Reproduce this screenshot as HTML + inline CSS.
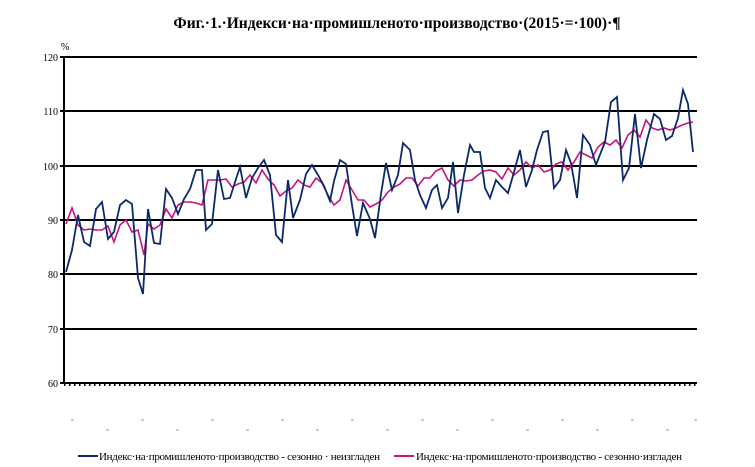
<!DOCTYPE html><html><head><style>body{margin:0;background:#fff}svg{display:block}</style></head><body>
<svg width="755" height="467" xmlns="http://www.w3.org/2000/svg" font-family="Liberation Serif, serif">
<text x="397" y="28" font-size="15.5" font-weight="bold" text-anchor="middle">Фиг.·1.·Индекси·на·промишленото·производство·(2015·=·100)·¶</text>
<text x="61" y="50" font-size="10">%</text>
<g font-size="10" text-anchor="end">
<text x="58" y="61">120</text><text x="58" y="115">110</text><text x="58" y="170">100</text><text x="58" y="224">90</text><text x="58" y="278">80</text><text x="58" y="333">70</text><text x="58" y="387">60</text></g>
<g stroke="#000" stroke-width="2">
<line x1="60" y1="57" x2="697" y2="57"/><line x1="60" y1="111" x2="697" y2="111"/><line x1="60" y1="166" x2="697" y2="166"/><line x1="60" y1="220" x2="697" y2="220"/><line x1="60" y1="274" x2="697" y2="274"/><line x1="60" y1="329" x2="697" y2="329"/><line x1="60" y1="383" x2="697" y2="383"/>
<line x1="64" y1="57" x2="64" y2="384"/></g>
<line x1="64" y1="385" x2="697" y2="385" stroke="#000" stroke-width="2" stroke-dasharray="1.5 3.5"/>
<polyline fill="none" stroke="#c8137e" stroke-width="1.6" points="66,224 72,208 78,225 84,230 90,229 96,230 102,230 108,226 114,242 120,225 126,220 132,232 138,230 144,255 148,224 154,229 160,225 166,209 172,218 178,205 184,202 190,202 196,203 202,205 208,180 214,180 220,180 226,179 232,187 238,184 244,182 250,175 256,183 262,170 268,179 274,185 280,196 286,191 292,188 298,180 304,185 310,187 316,178 322,183 328,195 334,205 340,200 346,180 352,190 358,200 364,200 370,207 376,204 382,200 388,192 394,187 400,184 406,178 412,178 418,186 424,178 430,178 436,171 442,168 448,180 454,186 460,180 466,181 472,180 478,175 484,171 490,170 496,172 502,179 508,168 514,175 520,170 526,162 532,168 538,165 544,172 550,170 556,164 562,162 568,170 574,162 580,152 586,155 592,158 598,147 604,142 610,145 616,140 622,148 628,135 634,130 640,137 646,120 652,128 658,130 664,128 670,130 676,128 682,125 688,123 693,122"/>
<polyline fill="none" stroke="#0c2a6b" stroke-width="1.8" points="66,272 72,250 78,215 84,242 90,246 96,209 102,202 108,239 114,232 120,205 126,200 132,204 138,278 143,294 148,209 154,243 160,244 166,189 172,198 178,214 184,199 190,189 196,170 202,170 206,230 212,224 218,170 224,199 230,198 236,179 240,167 246,198 252,178 258,168 264,160 270,175 276,235 282,242 288,180 293,218 300,200 306,174 312,165 318,175 324,186 330,201 334,181 340,160 346,164 352,205 357,236 363,203 370,219 375,238 381,194 386,163 392,190 398,175 403,143 410,150 415,180 420,195 426,208 432,190 437,185 442,208 448,198 453,162 458,213 464,175 470,145 474,152 480,152 485,188 490,198 496,180 502,187 508,193 514,172 520,150 526,187 532,170 537,150 543,132 548,131 554,188 560,180 566,150 571,163 577,198 583,135 590,145 596,165 601,152 605,142 611,102 617,97 623,180 629,168 635,114 641,168 647,140 654,114 660,119 666,140 672,136 678,118 683,90 688,104 693,152"/>
<g stroke="#999" stroke-width="1">
<line x1="71" y1="420" x2="74" y2="420"/><line x1="106" y1="430" x2="109" y2="430"/><line x1="141" y1="420" x2="144" y2="420"/><line x1="176" y1="430" x2="179" y2="430"/><line x1="211" y1="420" x2="214" y2="420"/><line x1="246" y1="430" x2="249" y2="430"/><line x1="281" y1="420" x2="284" y2="420"/><line x1="316" y1="430" x2="319" y2="430"/><line x1="351" y1="420" x2="354" y2="420"/><line x1="386" y1="430" x2="389" y2="430"/><line x1="421" y1="420" x2="424" y2="420"/><line x1="456" y1="430" x2="459" y2="430"/><line x1="491" y1="420" x2="494" y2="420"/><line x1="526" y1="430" x2="529" y2="430"/><line x1="561" y1="420" x2="564" y2="420"/><line x1="596" y1="430" x2="599" y2="430"/><line x1="631" y1="420" x2="634" y2="420"/><line x1="666" y1="430" x2="669" y2="430"/><line x1="694" y1="420" x2="697" y2="420"/></g>
<line x1="78" y1="456" x2="98" y2="456" stroke="#0c2a6b" stroke-width="2"/>
<text x="99" y="460" font-size="11" textLength="281" lengthAdjust="spacing">Индекс·на·промишленото·производство - сезонно · неизгладен</text>
<line x1="394" y1="456" x2="414" y2="456" stroke="#c8137e" stroke-width="2"/>
<text x="416" y="460" font-size="11" textLength="266" lengthAdjust="spacing">Индекс·на·промишленото·производство - сезонно·изгладен</text>
</svg></body></html>
